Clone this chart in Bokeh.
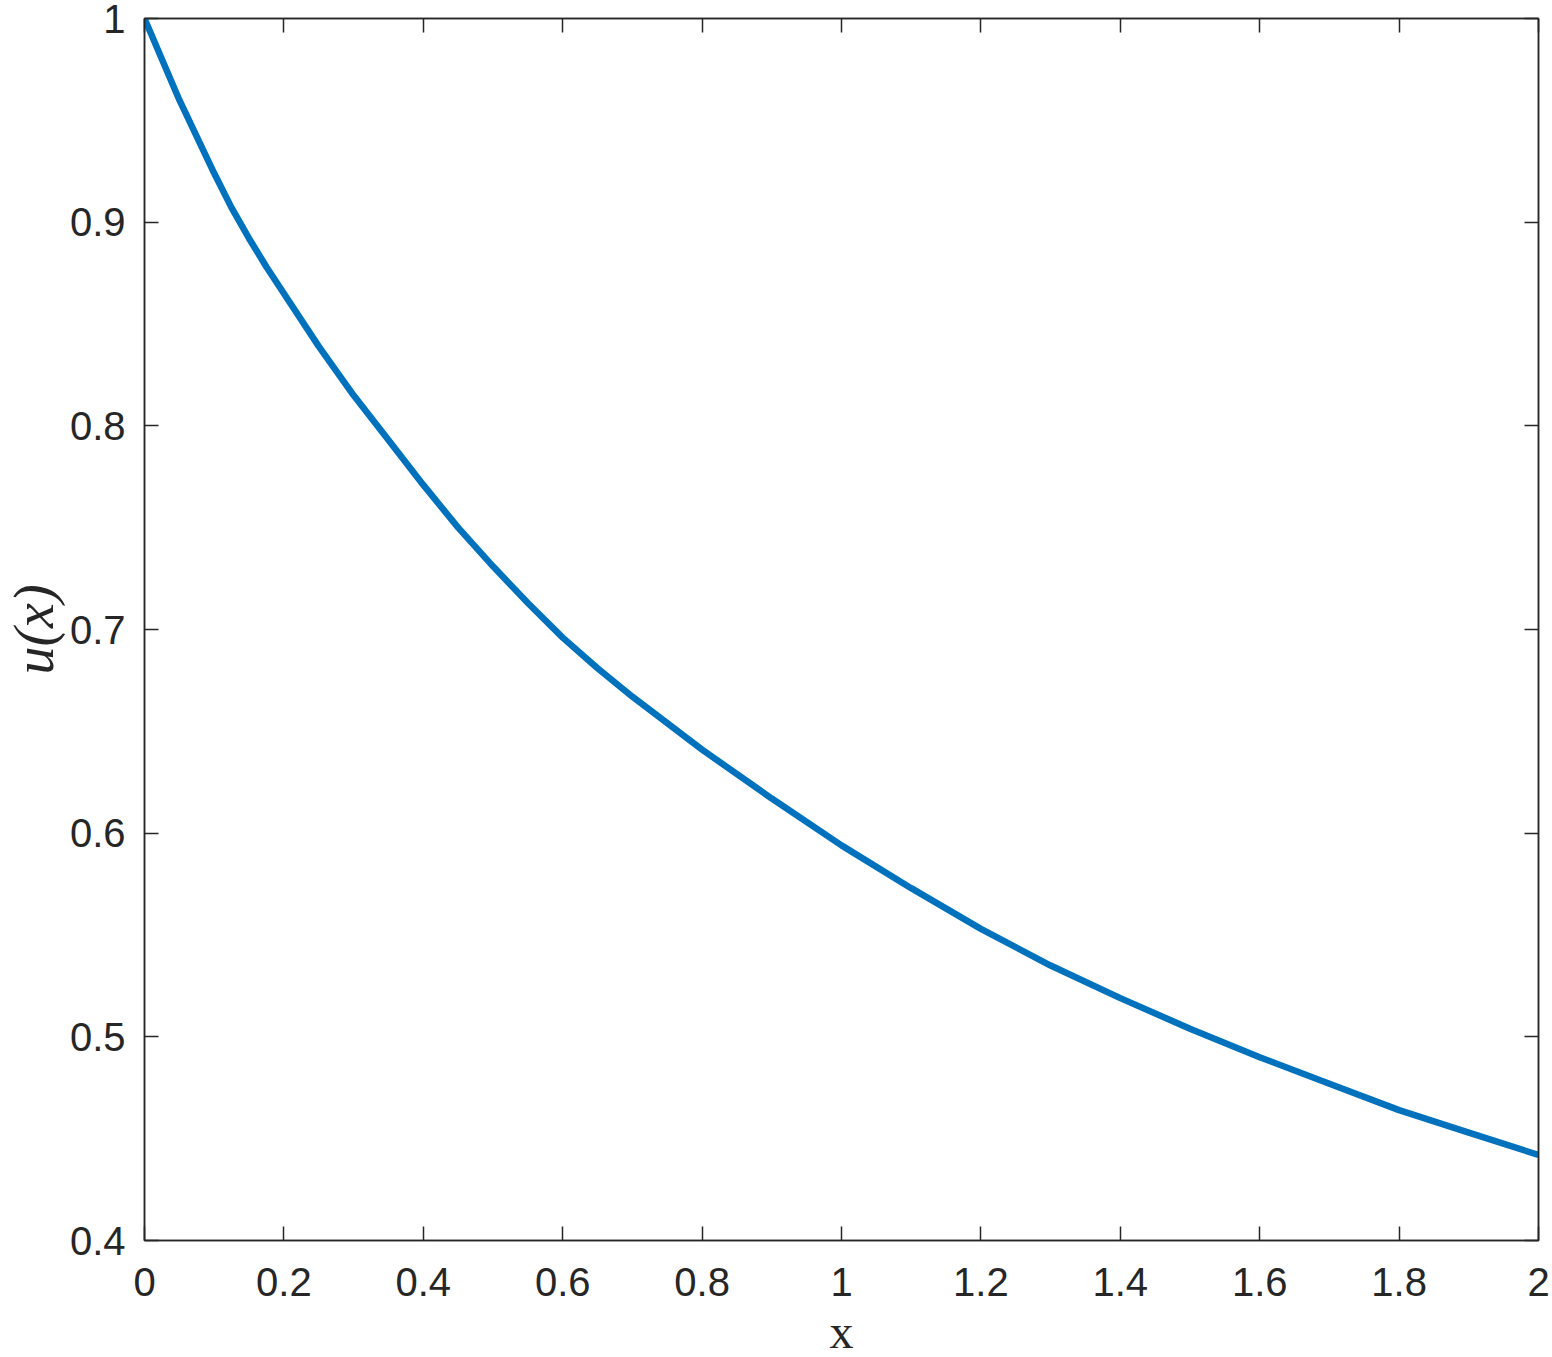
from bokeh.plotting import figure
from bokeh.models import LinearAxis, FixedTicker, Range1d, Title
from bokeh.embed import file_html
from bokeh.resources import INLINE

# ---- data ----
x_values = [0.0, 0.025, 0.05, 0.075, 0.1, 0.125, 0.15, 0.175, 0.2, 0.25, 0.3, 0.35,
            0.4, 0.45, 0.5, 0.55, 0.6, 0.65, 0.7, 0.75, 0.8, 0.9, 1.0,
            1.1, 1.2, 1.3, 1.4, 1.5, 1.6, 1.7, 1.8, 1.9, 2.0]
u_values = [1.000, 0.980, 0.960, 0.942, 0.924, 0.907, 0.892, 0.878, 0.865, 0.839,
            0.815, 0.793, 0.771, 0.750, 0.731, 0.713, 0.696, 0.681, 0.667, 0.654,
            0.641, 0.617, 0.594, 0.573, 0.553, 0.535, 0.519, 0.504, 0.490, 0.477,
            0.464, 0.453, 0.442]

x_ticks = [0, 0.2, 0.4, 0.6, 0.8, 1.0, 1.2, 1.4, 1.6, 1.8, 2.0]
x_tick_labels = ["0", "0.2", "0.4", "0.6", "0.8", "1", "1.2", "1.4", "1.6", "1.8", "2"]
y_ticks = [0.4, 0.5, 0.6, 0.7, 0.8, 0.9, 1.0]
y_tick_labels = ["0.4", "0.5", "0.6", "0.7", "0.8", "0.9", "1"]

x_label = "x"
y_label = "u(x)"

AX = "#262626"
TICK_FONT = "Liberation Sans"
TICK_SIZE = "40px"

p = figure(
    output_backend="svg", toolbar_location=None,
    frame_width=1394, frame_height=1222,
    min_border_left=144, min_border_right=14, min_border_top=18, min_border_bottom=117,
    x_range=Range1d(0, 2), y_range=Range1d(0.4, 1.0),
    background_fill_color="white", border_fill_color="white",
)
p.xgrid.visible = False
p.ygrid.visible = False
p.outline_line_color = AX
p.outline_line_width = 1.5

p.line(x_values, u_values, line_color="#0072BD", line_width=6.5)


def style(ax, ticks, labels, show_labels):
    ax.ticker = FixedTicker(ticks=ticks)
    ax.major_label_overrides = {t: l for t, l in zip(ticks, labels)}
    ax.minor_tick_line_color = None
    ax.major_tick_in = 14
    ax.major_tick_out = 0
    ax.major_tick_line_color = AX
    ax.major_tick_line_width = 1.5
    ax.axis_line_color = AX
    ax.axis_line_width = 1.5
    if show_labels:
        ax.major_label_text_font = TICK_FONT
        ax.major_label_text_font_size = TICK_SIZE
        ax.major_label_text_color = AX
    else:
        ax.major_label_text_font_size = "0px"
        ax.major_label_standoff = 0


bx = p.xaxis[0]
ly = p.yaxis[0]
style(bx, x_ticks, x_tick_labels, True)
style(ly, y_ticks, y_tick_labels, True)
bx.major_label_standoff = 27
ly.major_label_standoff = 19

bx.axis_label = x_label
bx.axis_label_text_font = "Liberation Serif"
bx.axis_label_text_font_style = "normal"
bx.axis_label_text_font_size = "48px"
bx.axis_label_text_color = AX
bx.axis_label_standoff = 6

top = LinearAxis()
style(top, x_ticks, ["" for _ in x_ticks], False)
p.add_layout(top, "above")
right = LinearAxis()
style(right, y_ticks, ["" for _ in y_ticks], False)
p.add_layout(right, "right")

ytitle = Title(
    text=y_label, align="center", vertical_align="top", standoff=0,
    text_font="Liberation Serif", text_font_style="italic", text_font_size="56px",
    text_color=AX,
)
p.add_layout(ytitle, "left")

open("out.html", "w").write(file_html(p, INLINE))
